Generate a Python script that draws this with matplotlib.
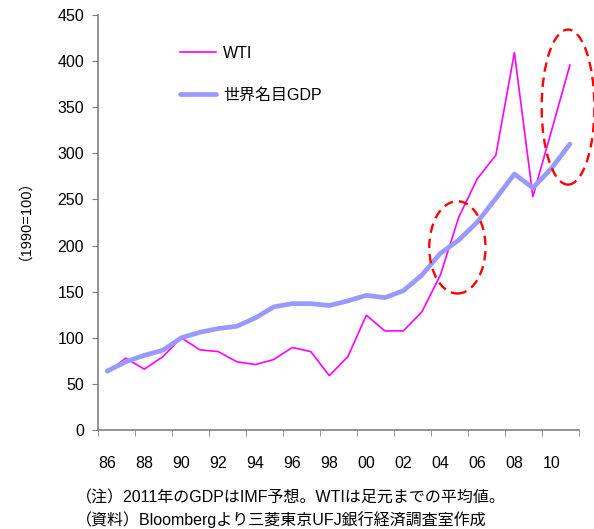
import matplotlib
matplotlib.use('Agg')
from matplotlib import pyplot as plt
from matplotlib.patches import Ellipse

plt.rcParams['font.family'] = ['Liberation Sans', 'Noto Sans CJK JP', 'DejaVu Sans']

years = list(range(1986, 2012))
wti = [62.5, 78, 66, 79.5, 100, 87, 85, 74, 71, 76.5, 89.5, 85, 59, 79.5,
       124.5, 107.5, 107.5, 128, 168, 231, 272.5, 298, 409, 253, 324, 395.5]
gdp = [64, 74, 81, 86.5, 100, 106, 110, 112.5, 121.5, 133.5, 137, 137, 135, 140,
       146, 143.5, 151, 168, 191.5, 206, 225.5, 251, 277.5, 262.5, 283.5, 310]
tick_years = list(range(1986, 2011, 2))
tick_labels = [f'{y % 100:02d}' for y in tick_years]
notes = ['（注）2011年のGDPはIMF予想。WTIは足元までの平均値。',
         '（資料）Bloombergより三菱東京UFJ銀行経済調査室作成']

fig = plt.figure(figsize=(5.94, 5.29), dpi=100)
ax = fig.add_axes([0.165, 0.187, 0.81, 0.785])

ax.plot(years, wti, color='#ff00ff', lw=1.2, label='WTI')
ax.plot(years, gdp, color='#9999ff', lw=3.4, label='世界名目GDP', solid_capstyle='round')

for (cx, cy, w, h) in [(2004.92, 198, 3.04, 100), (2010.9, 350, 2.85, 168)]:
    ax.add_patch(Ellipse((cx, cy), w, h, fill=False, ec='#ff0000', lw=1.7,
                         ls=(0, (4, 2.5)), clip_on=False, zorder=5))

ax.set_xlim(1985.5, 2011.5)
ax.set_ylim(0, 450)
ax.set_yticks(range(0, 451, 50))
ax.set_xticks(tick_years)
ax.set_xticklabels(tick_labels)
ax.set_xticks([1985.5 + 2 * k for k in range(14)], minor=True)
ax.tick_params(axis='x', which='major', length=0, pad=19, labelsize=11.5)
ax.tick_params(axis='x', which='minor', length=4, direction='out', color='#808080')
ax.tick_params(axis='y', length=4, direction='out', color='#808080', pad=6, labelsize=11.5)
for s in ['top', 'right']:
    ax.spines[s].set_visible(False)
for s in ['left', 'bottom']:
    ax.spines[s].set_color('#808080')
    ax.spines[s].set_linewidth(1.2)

ax.set_ylabel('（1990=100）', fontsize=10.5)
ax.yaxis.set_label_coords(-0.152, 0.525)

ax.legend(loc='upper left', bbox_to_anchor=(0.14, 0.96), frameon=False,
          fontsize=11.5, handlelength=2.3, handletextpad=0.4, labelspacing=1.7)

fig.text(0.128, 0.059, notes[0], fontsize=11.5, va='center')
fig.text(0.128, 0.018, notes[1], fontsize=11.5, va='center')

plt.savefig('out.png')
plt.close()
